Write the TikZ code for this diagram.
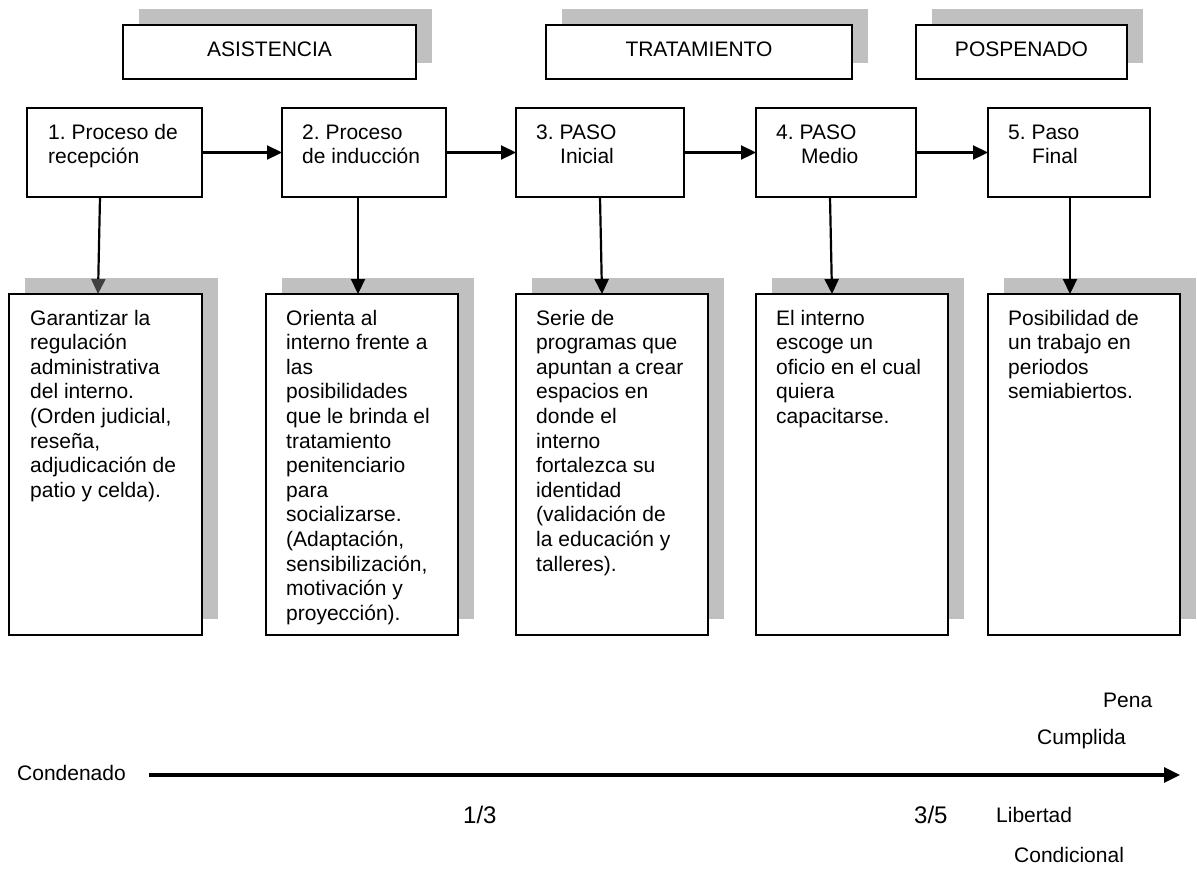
\documentclass[tikz,border=0pt]{standalone}
\usepackage{fontspec}
\setmainfont{Liberation Sans}
\usetikzlibrary{arrows.meta}
\definecolor{shadowgray}{RGB}{192,192,192}
\definecolor{tipgray}{RGB}{64,64,64}
\frenchspacing
\newcommand\shadowednode[6]{%
  \fill[shadowfill] (#2+16,#3-16) rectangle ++(#4,#5);
  \node[frame, minimum width=#4pt, minimum height=#5pt] (#1) at (#2,#3) {#6};}
\begin{document}
\begin{tikzpicture}[x=1pt,y=-1pt,
  shadowfill/.style={fill=shadowgray, draw=none},
  frame/.style={draw, line width=2.2pt, fill=white, inner sep=0pt, outer sep=0pt,
    anchor=north west, font=\fontsize{21}{24.6}\selectfont, text height=15pt, text depth=7pt},
  txt/.style={anchor=base west, inner sep=0pt, font=\fontsize{21}{24.6}\selectfont},
  big/.style={anchor=base west, inner sep=0pt, font=\fontsize{24}{28}\selectfont},
  link/.style={line width=2.2pt, -{Triangle[length=15pt,width=14pt]}},
  timeline/.style={line width=3.2pt, -{Triangle[length=16pt,width=15pt]}}]
\useasboundingbox (0,0) rectangle (1197,868);
\fill[white] (0,0) rectangle (1197,868);

% header boxes
\shadowednode{h1}{123}{25}{293}{54}{ASISTENCIA}
\shadowednode{h2}{546}{25}{306}{54}{TRATAMIENTO}
\shadowednode{h3}{916}{25}{211}{54}{POSPENADO}

% step boxes
\node[frame, minimum width=175pt, minimum height=89pt] (t1) at (27,108) {};
\node[frame, minimum width=164pt, minimum height=89pt] (t2) at (282,108) {};
\node[frame, minimum width=168pt, minimum height=89pt] (t3) at (516,108) {};
\node[frame, minimum width=160pt, minimum height=89pt] (t4) at (756,108) {};
\node[frame, minimum width=162pt, minimum height=89pt] (t5) at (988,108) {};

\node[txt] (t1txt) at (48,139) {\parbox[t]{160pt}{\raggedright 1. Proceso de\\recepción}};
\node[txt] (t2txt) at (302,139) {\parbox[t]{160pt}{\raggedright 2. Proceso\\de inducción}};
\node[txt] (t3txt) at (536,139) {\parbox[t]{160pt}{\raggedright 3. PASO\\\hspace*{24pt}Inicial}};
\node[txt] (t4txt) at (776,139) {\parbox[t]{160pt}{\raggedright 4. PASO\\\hspace*{25pt}Medio}};
\node[txt] (t5txt) at (1008,139) {\parbox[t]{160pt}{\raggedright 5. Paso\\\hspace*{24pt}Final}};

% description boxes
\shadowednode{d1}{9}{294}{193}{341}{}
\shadowednode{d2}{266}{294}{192}{341}{}
\shadowednode{d3}{516}{294}{192}{341}{}
\shadowednode{d4}{756}{294}{192}{341}{}
\shadowednode{d5}{988}{294}{192}{341}{}

\node[txt] (d1txt) at (30,325) {\parbox[t]{180pt}{\raggedright Garantizar la\\regulación\\administrativa\\del interno.\\(Orden judicial,\\reseña,\\adjudicación de\\patio y celda).}};
\node[txt] (d2txt) at (286,325) {\parbox[t]{180pt}{\raggedright Orienta al\\interno frente a\\las\\posibilidades\\que le brinda el\\tratamiento\\penitenciario\\para\\socializarse.\\(Adaptación,\\sensibilización,\\motivación y\\proyección).}};
\node[txt] (d3txt) at (536,325) {\parbox[t]{180pt}{\raggedright Serie de\\programas que\\apuntan a crear\\espacios en\\donde el\\interno\\fortalezca su\\identidad\\(validación de\\la educación y\\talleres).}};
\node[txt] (d4txt) at (776,325) {\parbox[t]{180pt}{\raggedright El interno\\escoge un\\oficio en el cual\\quiera\\capacitarse.}};
\node[txt] (d5txt) at (1008,325) {\parbox[t]{180pt}{\raggedright Posibilidad de\\un trabajo en\\periodos\\semiabiertos.}};

% horizontal connectors
\draw[link] (t1.east) -- (t2.west);
\draw[link] (t2.east) -- (t3.west);
\draw[link] (t3.east) -- (t4.west);
\draw[link] (t4.east) -- (t5.west);

% vertical connectors
\draw[line width=2.2pt, -{Triangle[length=15pt,width=14pt,color=tipgray]}]
  ([xshift=73pt]t1.south west) -- ([xshift=89pt]d1.north west);
\draw[link] ([xshift=76pt]t2.south west) -- ([xshift=92pt]d2.north west);
\draw[link] ([xshift=84pt]t3.south west) -- ([xshift=86pt]d3.north west);
\draw[link] ([xshift=74pt]t4.south west) -- ([xshift=76pt]d4.north west);
\draw[link] ([xshift=82pt]t5.south west) -- ([xshift=82pt]d5.north west);

% timeline
\node[txt] (cond) at (17,780) {Condenado};
\coordinate (tstart) at (149,775);
\coordinate (tend) at (1180,775);
\draw[timeline] (tstart) -- (tend);
\node[txt] (pena) at (1103,707) {Pena};
\node[txt] (cumplida) at (1037,744) {Cumplida};
\node[big] (tercio) at (463,823) {1/3};
\node[big] (tresq) at (914,823) {3/5};
\node[txt] (libertad) at (996,822) {Libertad};
\node[txt] (condicional) at (1014,862) {Condicional};
\end{tikzpicture}
\end{document}
